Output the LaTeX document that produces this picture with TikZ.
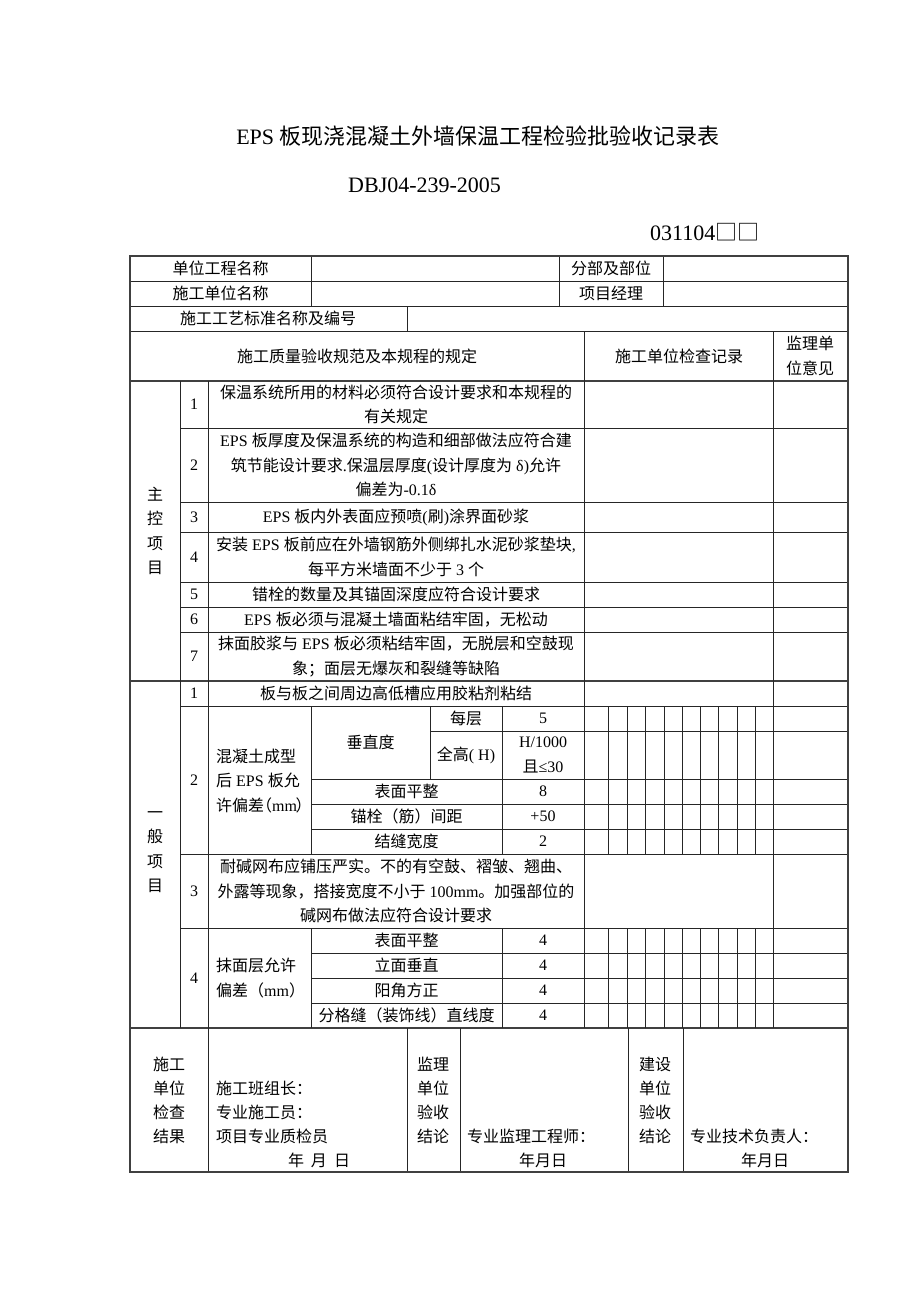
\documentclass[tikz,border=0pt]{standalone}
\usepackage{fontspec}
\setmainfont{Liberation Serif}
\newfontfamily\cjk{Noto Sans CJK SC}
\newcount\cjkc
\def\setcjkrange#1#2{\cjkc=#1 \loop\XeTeXcharclass\cjkc=7 \ifnum\cjkc<#2 \advance\cjkc by 1 \repeat}
\setcjkrange{"4E00}{"9FFF}
\setcjkrange{"3000}{"303F}
\setcjkrange{"FF00}{"FFEF}
\XeTeXcharclass"25A1=7
\XeTeXinterchartoks 0 7 = {\cjk}
\XeTeXinterchartoks 4095 7 = {\cjk}
\XeTeXinterchartoks 7 0 = {\rmfamily}
\XeTeXinterchartoks 7 4095 = {\rmfamily}
\XeTeXinterchartokenstate=1
\begin{document}
\begin{tikzpicture}[x=1pt,y=-1pt,
  ln/.style={line width=0.7pt, draw=black!85},
  bd/.style={line width=1.3pt, draw=black!75},
  t/.style={font=\fontsize{16}{24.5}\selectfont, inner sep=0pt, align=center},
  tl/.style={t, align=left, anchor=west},
  big/.style={font=\fontsize{22}{26}\selectfont, inner sep=0pt}]
\fill[white] (0,0) rectangle (920,1302);
\useasboundingbox (0,0) rectangle (920,1302);

% titles
\node[big] (title) at (478,136) {EPS 板现浇混凝土外墙保温工程检验批验收记录表};
\node[big, anchor=west] (std) at (348,185) {DBJ04-239-2005};
\node[big, anchor=west] (code) at (650,232) {031104□□};

% horizontal lines
\foreach \y in {281,306,331} \draw[ln] (130,\y) -- (848,\y);
\draw[bd] (130,381) -- (848,381);
\foreach \y in {428,502,532,582,607,632} \draw[ln] (180,\y) -- (848,\y);
\draw[bd] (130,681) -- (848,681);
\draw[ln] (180,706) -- (848,706);
\draw[ln] (430,731) -- (848,731);
\foreach \y in {779,804,829} \draw[ln] (311,\y) -- (848,\y);
\draw[ln] (180,854) -- (848,854);
\draw[ln] (180,928) -- (848,928);
\foreach \y in {953,978,1003} \draw[ln] (311,\y) -- (848,\y);
\draw[bd] (130,1028) -- (848,1028);

% vertical lines
\foreach \x in {311,559,663} \draw[ln] (\x,256) -- (\x,306);
\draw[ln] (407,306) -- (407,331);
\foreach \x in {584,773} \draw[ln] (\x,331) -- (\x,706);
\foreach \x in {180,208} \draw[ln] (\x,381) -- (\x,1028);
\foreach \x in {311,502} \draw[ln] (\x,706) -- (\x,854);
\draw[ln] (430,706) -- (430,779);
\foreach \x in {584,608,627,645,664,682,700,718,737,755,773} \draw[ln] (\x,706) -- (\x,854);
\foreach \x in {584,773} \draw[ln] (\x,854) -- (\x,928);
\foreach \x in {311,502} \draw[ln] (\x,928) -- (\x,1028);
\foreach \x in {584,608,627,645,664,682,700,718,737,755,773} \draw[ln] (\x,928) -- (\x,1028);
\foreach \x in {208,407,460,628,683} \draw[ln] (\x,1028) -- (\x,1172);

% outer border
\draw[bd] (130,256) rectangle (848,1172);

% header rows
\node[t] (h1) at (220.5,268.5) {单位工程名称};
\node[t] (h2) at (611,268.5) {分部及部位};
\node[t] (h3) at (220.5,293.5) {施工单位名称};
\node[t] (h4) at (611,293.5) {项目经理};
\node[t] (h5) at (268,318.5) {施工工艺标准名称及编号};
\node[t] (h6) at (357,356) {施工质量验收规范及本规程的规定};
\node[t] (h7) at (679,356) {施工单位检查记录};
\node[t] (h8) at (810,356) {监理单\\位意见};

% main control items
\node[t] (zk) at (155,531) {主\\控\\项\\目};
\node[t] (m1n) at (194,404.5) {1};
\node[t] (m1) at (396,404.5) {保温系统所用的材料必须符合设计要求和本规程的\\有关规定};
\node[t] (m2n) at (194,465) {2};
\node[t] (m2) at (396,465) {EPS 板厚度及保温系统的构造和细部做法应符合建\\筑节能设计要求.保温层厚度(设计厚度为 δ)允许\\偏差为-0.1δ};
\node[t] (m3n) at (194,517) {3};
\node[t] (m3) at (396,517) {EPS 板内外表面应预喷(刷)涂界面砂浆};
\node[t] (m4n) at (194,557) {4};
\node[t] (m4) at (396,557) {安装 EPS 板前应在外墙钢筋外侧绑扎水泥砂浆垫块,\\每平方米墙面不少于 3 个};
\node[t] (m5n) at (194,594.5) {5};
\node[t] (m5) at (396,594.5) {错栓的数量及其锚固深度应符合设计要求};
\node[t] (m6n) at (194,619.5) {6};
\node[t] (m6) at (396,619.5) {EPS 板必须与混凝土墙面粘结牢固，无松动};
\node[t] (m7n) at (194,656.5) {7};
\node[t] (m7) at (396,656.5) {抹面胶浆与 EPS 板必须粘结牢固，无脱层和空鼓现\\象；面层无爆灰和裂缝等缺陷};

% general items
\node[t] (yb) at (155,852) {一\\般\\项\\目};
\node[t] (g1n) at (194,693.5) {1};
\node[t] (g1) at (396,693.5) {板与板之间周边高低槽应用胶粘剂粘结};
\node[t] (g2n) at (194,780) {2};
\node[tl] (g2) at (216,781) {混凝土成型\\后 EPS 板允\\许偏差\hspace{-8pt}（mm\hspace{-1.5pt}）};
\node[t] (g2a) at (370.5,742.5) {垂直度};
\node[t] (g2b) at (466,718.5) {每层};
\node[t] (g2bv) at (543,718.5) {5};
\node[t] (g2c) at (466,755) {全高( H)};
\node[t] (g2cv) at (543,755) {H/1000\\且≤30};
\node[t] (g2d) at (406.5,791.5) {表面平整};
\node[t] (g2dv) at (543,791.5) {8};
\node[t] (g2e) at (406.5,816.5) {锚栓（筋）间距};
\node[t] (g2ev) at (543,816.5) {+50};
\node[t] (g2f) at (406.5,841.5) {结缝宽度};
\node[t] (g2fv) at (543,841.5) {2};
\node[t] (g3n) at (194,891) {3};
\node[t] (g3) at (396,891) {耐碱网布应铺压严实。不的有空鼓、褶皱、翘曲、\\外露等现象，搭接宽度不小于 100mm。加强部位的\\碱网布做法应符合设计要求};
\node[t] (g4n) at (194,978) {4};
\node[tl] (g4) at (216,978) {抹面层允许\\偏差（mm）};
\node[t] (g4a) at (406.5,940.5) {表面平整};
\node[t] (g4av) at (543,940.5) {4};
\node[t] (g4b) at (406.5,965.5) {立面垂直};
\node[t] (g4bv) at (543,965.5) {4};
\node[t] (g4c) at (406.5,990.5) {阳角方正};
\node[t] (g4cv) at (543,990.5) {4};
\node[t] (g4d) at (406.5,1015.5) {分格缝（装饰线）直线度};
\node[t] (g4dv) at (543,1015.5) {4};

% bottom section
\node[t, font=\fontsize{16}{24}\selectfont] (b1) at (169,1100) {施工\\单位\\检查\\结果};
\node[tl] (b2a) at (216,1088) {施工班组长：};
\node[tl] (b2b) at (216,1112) {专业施工员：};
\node[tl] (b2c) at (216,1136) {项目专业质检员};
\node[t] (b2d) at (319,1160) {年\hspace{7pt}月\hspace{7pt}日};
\node[t, font=\fontsize{16}{24}\selectfont] (b3) at (433,1100) {监理\\单位\\验收\\结论};
\node[tl] (b4a) at (467,1136) {专业监理工程师：};
\node[t] (b4b) at (543,1160) {年月日};
\node[t, font=\fontsize{16}{24}\selectfont] (b5) at (655,1100) {建设\\单位\\验收\\结论};
\node[tl] (b6a) at (690,1136) {专业技术负责人：};
\node[t] (b6b) at (765,1160) {年月日};
\end{tikzpicture}
\end{document}
